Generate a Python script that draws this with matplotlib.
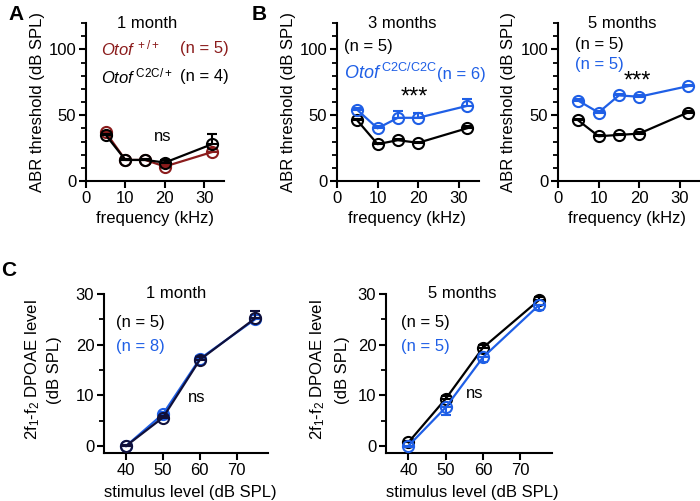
import matplotlib
matplotlib.use("Agg")
import matplotlib.pyplot as plt
from matplotlib.ticker import MultipleLocator

plt.rcParams["font.family"] = ["Liberation Sans", "DejaVu Sans"]
plt.rcParams["mathtext.fontset"] = "custom"
plt.rcParams["mathtext.rm"] = "Liberation Sans"
plt.rcParams["mathtext.it"] = "Liberation Sans:italic"

RED = "#8b1c1c"
BLUE = "#1f5fe6"
BLK = "black"

# ABR thresholds (dB SPL) vs frequency (kHz)
freq = [5, 10, 15, 20, 32]
a_wt = [37, 16, 16, 11, 22]
a_wt_err = [1, 0.5, 0.5, 1, 2]
a_het = [35, 16, 16, 14, 28]
a_het_err = [1, 0.5, 0.5, 2, 8]

b3_ctrl = [46, 28, 31, 29, 40]
b3_ctrl_err = [1, 1, 1, 1, 1.5]
b3_ki = [54, 40, 48, 48, 57]
b3_ki_err = [1.5, 1.5, 5, 4, 5]

b5_ctrl = [46, 34, 35, 36, 52]
b5_ctrl_err = [1, 1, 1, 1.5, 1.5]
b5_ki = [61, 52, 65, 64, 72]
b5_ki_err = [1, 1, 1, 1, 1]

# DPOAE level vs stimulus level
stim = [40, 50, 60, 75]
c1_ctrl = [0.0, 5.6, 17.0, 25.2]
c1_ctrl_err = [0.2, 0.4, 0.5, 1.5]
c1_ki = [0.0, 6.3, 17.2, 25.0]
c1_ki_err = [0.2, 0.4, 0.5, 0.8]

c5_ctrl = [0.7, 9.3, 19.4, 28.8]
c5_ctrl_err = [0.3, 0.5, 0.5, 0.7]
c5_ki = [0.0, 7.6, 17.5, 27.8]
c5_ki_err = [0.3, 1.5, 1.0, 1.0]

W, H = 700, 501
fig = plt.figure(figsize=(W / 100, H / 100), dpi=100)


def box(l, t, r, b):
    return [l / W, 1 - b / H, (r - l) / W, (b - t) / H]


def ftext(x, y, s, **kw):
    kw.setdefault("fontsize", 12)
    kw.setdefault("va", "center")
    fig.text(x / W, 1 - y / H, s, **kw)


def style(ax):
    for s in ("top", "right"):
        ax.spines[s].set_visible(False)
    for s in ("left", "bottom"):
        ax.spines[s].set_linewidth(1.5)
    ax.tick_params(width=1.5, length=5, labelsize=12, pad=2)
    ax.tick_params(which="minor", width=1.3, length=3.5)


def series(ax, x, y, err, color, up=True, z=2):
    yerr = [[0] * len(err), err] if up else [err, [0] * len(err)]
    ax.errorbar(x, y, yerr=yerr, color=color, lw=1.6, marker="o", ms=8,
                mfc="none", mew=1.5, capsize=3.5, capthick=1.5, elinewidth=1.5,
                zorder=z, clip_on=False)


def abr_axes(rect):
    ax = fig.add_axes(rect)
    style(ax)
    ax.set_xlim(0, 35)
    ax.set_ylim(0, 120)
    ax.set_xticks([0, 10, 20, 30])
    ax.set_yticks([0, 50, 100])
    ax.yaxis.set_minor_locator(MultipleLocator(10))
    return ax


def dp_axes(rect):
    ax = fig.add_axes(rect)
    style(ax)
    ax.set_xlim(34, 78.5)
    ax.set_ylim(-1.4, 30)
    ax.spines["left"].set_bounds(-1.4, 30)
    ax.set_xticks([40, 50, 60, 70])
    ax.set_yticks([0, 10, 20, 30])
    ax.yaxis.set_minor_locator(MultipleLocator(5))
    return ax


# ---- A ----
axA = abr_axes(box(86, 23, 224, 181))
series(axA, freq, a_wt, a_wt_err, RED, z=2)
series(axA, freq, a_het, a_het_err, BLK, z=3)
ftext(147, 23, "1 month", ha="center")
ftext(101, 48, r"$\it{Otof}$$^{\rm\ +/+}$", color=RED)
ftext(229, 48, "(n = 5)", color=RED, ha="right")
ftext(101, 76, r"$\it{Otof}$$^{\rm\ C2C/+}$", color=BLK)
ftext(229, 76, "(n = 4)", ha="right")
ftext(163, 136, "ns", ha="center")
ftext(38, 102, "ABR threshold (dB SPL)", rotation=90, ha="center")
ftext(155, 219, "frequency (kHz)", ha="center")
ftext(16, 14, "A", fontsize=15, fontweight="bold", ha="center")

# ---- B, 3 months ----
axB1 = abr_axes(box(337, 23, 479, 181))
series(axB1, freq, b3_ctrl, b3_ctrl_err, BLK)
series(axB1, freq, b3_ki, b3_ki_err, BLUE)
ftext(402, 23, "3 months", ha="center")
ftext(344, 47, "(n = 5)")
ftext(344, 73, r"$\it{Otof}$$^{\rm\ C2C/C2C}$", color=BLUE, fontsize=13)
ftext(486, 75, "(n = 6)", color=BLUE, ha="right")
ftext(414, 98, "***", ha="center", fontsize=17)
ftext(288, 102, "ABR threshold (dB SPL)", rotation=90, ha="center")
ftext(407, 219, "frequency (kHz)", ha="center")
ftext(259, 14, "B", fontsize=15, fontweight="bold", ha="center")

# ---- B, 5 months ----
axB2 = abr_axes(box(558, 23, 700, 181))
series(axB2, freq, b5_ctrl, b5_ctrl_err, BLK)
series(axB2, freq, b5_ki, b5_ki_err, BLUE)
ftext(622, 23, "5 months", ha="center")
ftext(575, 44, "(n = 5)")
ftext(575, 65, "(n = 5)", color=BLUE)
ftext(637, 82, "***", ha="center", fontsize=17)
ftext(508, 102, "ABR threshold (dB SPL)", rotation=90, ha="center")
ftext(627, 219, "frequency (kHz)", ha="center")

# ---- C, 1 month ----
axC1 = dp_axes(box(104, 294, 268, 453))
series(axC1, stim, c1_ki, c1_ki_err, BLUE, z=2)
series(axC1, stim, c1_ctrl, c1_ctrl_err, "#10103a", z=3)
ftext(176, 293, "1 month", ha="center")
ftext(116, 323, "(n = 5)")
ftext(116, 346, "(n = 8)", color=BLUE)
ftext(197, 398, "ns", ha="center")
ftext(33, 370, r"2f$_1$-f$_2$ DPOAE level", rotation=90, ha="center")
ftext(55, 370, "(dB SPL)", rotation=90, ha="center")
ftext(190, 492, "stimulus level (dB SPL)", ha="center")
ftext(9, 270, "C", fontsize=15, fontweight="bold", ha="center")

# ---- C, 5 months ----
axC2 = dp_axes(box(386, 294, 552, 453))
series(axC2, stim, c5_ctrl, c5_ctrl_err, BLK, z=2)
series(axC2, stim, c5_ki, c5_ki_err, BLUE, up=False, z=3)
ftext(462, 293, "5 months", ha="center")
ftext(401, 323, "(n = 5)")
ftext(401, 346, "(n = 5)", color=BLUE)
ftext(475, 393, "ns", ha="center")
ftext(318, 370, r"2f$_1$-f$_2$ DPOAE level", rotation=90, ha="center")
ftext(343, 370, "(dB SPL)", rotation=90, ha="center")
ftext(472, 492, "stimulus level (dB SPL)", ha="center")

fig.savefig("out.png", dpi=100)
